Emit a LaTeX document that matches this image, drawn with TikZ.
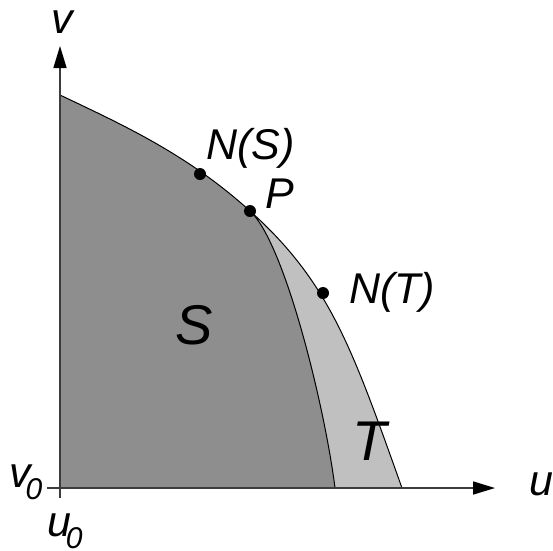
\documentclass[tikz,border=0pt]{standalone}
\usepackage{fontspec}
\setmainfont{Liberation Sans}
\usetikzlibrary{arrows.meta}
\definecolor{sgray}{RGB}{142,142,142}
\definecolor{tgray}{RGB}{192,192,192}
\definecolor{axisgray}{RGB}{60,60,60}
\tikzset{
  lbl/.style={inner sep=0pt,font=\fontsize{43}{43}\selectfont\itshape},
  biglbl/.style={inner sep=0pt,font=\fontsize{56}{56}\selectfont\itshape},
  dotnode/.style={circle,fill=black,inner sep=0pt,minimum size=12pt},
  axisline/.style={draw=axisgray,line width=1.6pt,-{Triangle[length=22pt,width=13pt,color=black]}},
  bound/.style={draw=black,line width=1pt}
}
\newcommand{\subz}{\kern-0.12em\raisebox{-0.3em}{\fontsize{30}{30}\selectfont 0}}
\begin{document}
\begin{tikzpicture}[x=1pt,y=-1pt]
\useasboundingbox (0,0) rectangle (553,550);
% key coordinates
\coordinate (O) at (60,488);
\coordinate (A) at (60,95);
\coordinate (Pp) at (250,211);
\coordinate (E) at (402,488);
\coordinate (F) at (335,488);
% T region (outer)
\fill[tgray] (O) -- (A) .. controls (123,125) and (187,154) .. (Pp)
  .. controls (330,283) and (352,348) .. (E) -- cycle;
% S region
\fill[sgray] (O) -- (A) .. controls (123,125) and (187,154) .. (Pp)
  .. controls (285,243) and (325,408) .. (F) -- cycle;
% boundaries
\draw[bound] (A) .. controls (123,125) and (187,154) .. (Pp)
  .. controls (330,283) and (352,348) .. (E);
\draw[bound] (Pp) .. controls (285,243) and (325,408) .. (F);
% axes
\coordinate (vb) at (60,498);
\coordinate (vt) at (60,46);
\coordinate (ul) at (47,488);
\coordinate (ur) at (495,488);
\draw[axisline] (vb) -- (vt);
\draw[axisline] (ul) -- (ur);
% dots
\node[dotnode] (ns) at (200,174) {};
\node[dotnode] (p) at (250,211) {};
\node[dotnode] (nt) at (323,293) {};
% labels
\node[lbl,anchor=base west] (lv) at (51,33) {v};
\node[lbl,anchor=base west] (lu) at (529,495) {u};
\node[lbl,anchor=base west] (lns) at (206,159) {N(S)};
\node[lbl,anchor=base west] (lp) at (265,208) {P};
\node[lbl,anchor=base west] (lnt) at (349,303) {N(T)};
\node[biglbl,anchor=base west] (ls) at (175,344) {S};
\node[biglbl,anchor=base west] (lt) at (352,460) {T};
\node[lbl,anchor=base west] (lv0) at (9,487) {v\subz};
\node[lbl,anchor=base west] (lu0) at (47,536) {u\subz};
\end{tikzpicture}
\end{document}
